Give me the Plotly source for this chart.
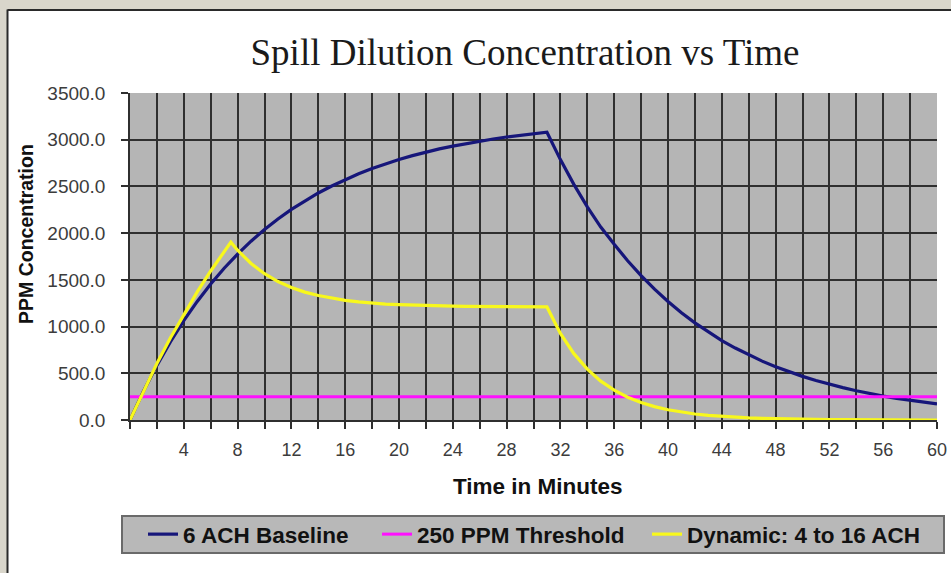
import plotly.graph_objects as go

# ---------------- data ----------------
TIME_MIN = [0, 1, 2, 3, 4, 5, 6, 7, 8, 9, 10, 11, 12, 13, 14, 15, 16, 17, 18, 19, 20,
            21, 22, 23, 24, 25, 26, 27, 28, 29, 30, 31, 32, 33, 34, 35, 36, 37, 38, 39, 40,
            41, 42, 43, 44, 45, 46, 47, 48, 49, 50, 51, 52, 53, 54, 55, 56, 57, 58, 59, 60]

BASELINE_6ACH = [0, 307, 585, 836, 1063, 1269, 1455, 1624, 1776, 1914, 2039, 2152, 2254, 2346,
                 2430, 2505, 2574, 2636, 2692, 2743, 2789, 2830, 2868, 2902, 2932, 2960, 2986,
                 3008, 3029, 3048, 3064, 3080, 2787, 2522, 2282, 2065, 1880, 1705, 1545, 1400,
                 1268, 1148, 1040, 940, 850, 770, 697, 630, 570, 516, 467, 422, 382, 346, 313,
                 283, 256, 232, 210, 190, 172]

DYNAMIC_TIME = [0, 1, 2, 3, 4, 5, 6, 7, 7.5, 8, 9, 10, 11, 12, 13, 14, 15, 16, 17, 18, 19, 20,
                21, 22, 23, 24, 25, 26, 27, 28, 29, 30, 31, 32, 33, 34, 35, 36, 37, 38, 39, 40,
                41, 42, 43, 44, 45, 46, 47, 48, 49, 50, 51, 52, 53, 54, 55, 56, 57, 58, 59, 60]

DYNAMIC_4_16 = [0, 312, 604, 877, 1132, 1371, 1595, 1804, 1904, 1817, 1675, 1566, 1482, 1418,
                1369, 1332, 1303, 1281, 1264, 1251, 1241, 1234, 1228, 1224, 1220, 1218, 1216,
                1214, 1213, 1212, 1211, 1211, 1210, 927, 710, 544, 416, 319, 244, 187, 143, 110,
                84, 64, 49, 38, 29, 22, 17, 13, 10, 8, 6, 4, 3, 3, 2, 2, 1, 1, 1, 0]

THRESHOLD_TIME = [0, 60]
THRESHOLD_PPM = [250, 250]

SERIES_NAMES = ["6 ACH Baseline", "250 PPM Threshold", "Dynamic: 4 to 16 ACH"]

X_TICK_VALUES = [0, 2, 4, 6, 8, 10, 12, 14, 16, 18, 20, 22, 24, 26, 28, 30,
                 32, 34, 36, 38, 40, 42, 44, 46, 48, 50, 52, 54, 56, 58, 60]
X_TICK_LABELS = ["", "", "4", "", "8", "", "12", "", "16", "", "20", "", "24", "", "28", "",
                 "32", "", "36", "", "40", "", "44", "", "48", "", "52", "", "56", "", "60"]

TITLE = "Spill Dilution Concentration vs Time"
X_TITLE = "Time in Minutes"
Y_TITLE = "PPM Concentration"

# ---------------- layout geometry ----------------
W, H = 951, 573
ML, MR, MT, MB = 130, 14, 93, 153
PW, PH = W - ML - MR, H - MT - MB


def px_x(x):
    return (x - ML) / PW


def px_y(y):
    return (H - MB - y) / PH


SANS = "Arial, Liberation Sans, sans-serif"
SERIF = "Times New Roman, Liberation Serif, serif"
GRID = "#2f2f2f"
LEGEND_FONT = dict(family=SANS, size=22.5, color="#111111", weight="bold")

fig = go.Figure()
fig.add_trace(go.Scatter(x=TIME_MIN, y=BASELINE_6ACH, mode="lines", name=SERIES_NAMES[0],
                         line=dict(color="#16167a", width=3.2), legend="legend"))
fig.add_trace(go.Scatter(x=THRESHOLD_TIME, y=THRESHOLD_PPM, mode="lines", name=SERIES_NAMES[1],
                         line=dict(color="#ff10ff", width=3), legend="legend2"))
fig.add_trace(go.Scatter(x=DYNAMIC_TIME, y=DYNAMIC_4_16, mode="lines", name=SERIES_NAMES[2],
                         line=dict(color="#f8f81c", width=3.2), legend="legend3"))

shapes = [
    # beige outer strips
    dict(type="rect", xref="paper", yref="paper", x0=px_x(0), x1=px_x(7), y0=px_y(H + 5), y1=px_y(0),
         fillcolor="#d9d6cb", line=dict(width=0), layer="above"),
    dict(type="rect", xref="paper", yref="paper", x0=px_x(0), x1=px_x(W + 5), y0=px_y(10), y1=px_y(0),
         fillcolor="#d9d6cb", line=dict(width=0), layer="above"),
    # dark frame lines
    dict(type="line", xref="paper", yref="paper", x0=px_x(7.5), x1=px_x(7.5), y0=px_y(H + 5), y1=px_y(9.5),
         line=dict(color="#2a2a2a", width=2), layer="above"),
    dict(type="line", xref="paper", yref="paper", x0=px_x(7.5), x1=px_x(W + 5), y0=px_y(10), y1=px_y(10),
         line=dict(color="#2a2a2a", width=2), layer="above"),
    # legend box
    dict(type="rect", xref="paper", yref="paper", x0=px_x(122), x1=px_x(944), y0=px_y(553), y1=px_y(516),
         fillcolor="#b8b8b8", line=dict(color="#6a6a6a", width=2), layer="above"),
]

annotations = [
    dict(text=X_TITLE, xref="paper", yref="paper", x=px_x(538), y=px_y(486), showarrow=False,
         xanchor="center", yanchor="middle",
         font=dict(family=SANS, size=22.5, color="#111111", weight="bold")),
    dict(text=Y_TITLE, xref="paper", yref="paper", x=px_x(26), y=px_y(234), showarrow=False,
         textangle=-90, xanchor="center", yanchor="middle",
         font=dict(family=SANS, size=19.5, color="#111111", weight="bold")),
]


def legend_at(line_start_px):
    return dict(orientation="h", x=px_x(line_start_px - 5), y=px_y(534.5), xanchor="left",
                yanchor="middle", bgcolor="rgba(0,0,0,0)", borderwidth=0, font=LEGEND_FONT)


fig.update_layout(
    width=W, height=H, autosize=False,
    margin=dict(l=ML, r=MR, t=MT, b=MB, pad=0, autoexpand=False),
    paper_bgcolor="white",
    plot_bgcolor="#b5b5b5",
    title=dict(text=TITLE, x=px_x(525), xref="paper", xanchor="center",
               y=1 - 52 / H, yref="container", yanchor="middle",
               font=dict(family=SERIF, size=37, color="#1a1a1a")),
    showlegend=True,
    legend=legend_at(148),
    legend2=legend_at(382),
    legend3=legend_at(652),
    shapes=shapes,
    annotations=annotations,
    xaxis=dict(range=[0, 60], tickmode="array", tickvals=X_TICK_VALUES, ticktext=X_TICK_LABELS,
               showgrid=True, gridcolor=GRID, gridwidth=1.5,
               ticks="outside", ticklen=7, tickcolor=GRID, tickwidth=1.5,
               showline=True, linecolor=GRID, linewidth=1.5, zeroline=False,
               ticklabelstandoff=6, automargin=False,
               tickfont=dict(family=SANS, size=18, color="#3c3c3c")),
    yaxis=dict(range=[0, 3500], tick0=0, dtick=500, tickformat=".1f",
               showgrid=True, gridcolor=GRID, gridwidth=1.5,
               ticks="outside", ticklen=7, tickcolor=GRID, tickwidth=1.5,
               showline=True, linecolor=GRID, linewidth=1.5, zeroline=False,
               ticklabelstandoff=12, automargin=False,
               tickfont=dict(family=SANS, size=19, color="#3c3c3c")),
)

fig.write_html(
    "out.html",
    config={"responsive": False, "displayModeBar": False},
    post_script=("document.body.style.margin='0';document.body.style.padding='0';"
                 "document.body.style.overflow='hidden';"
                 "document.documentElement.style.overflow='hidden';"),
)
